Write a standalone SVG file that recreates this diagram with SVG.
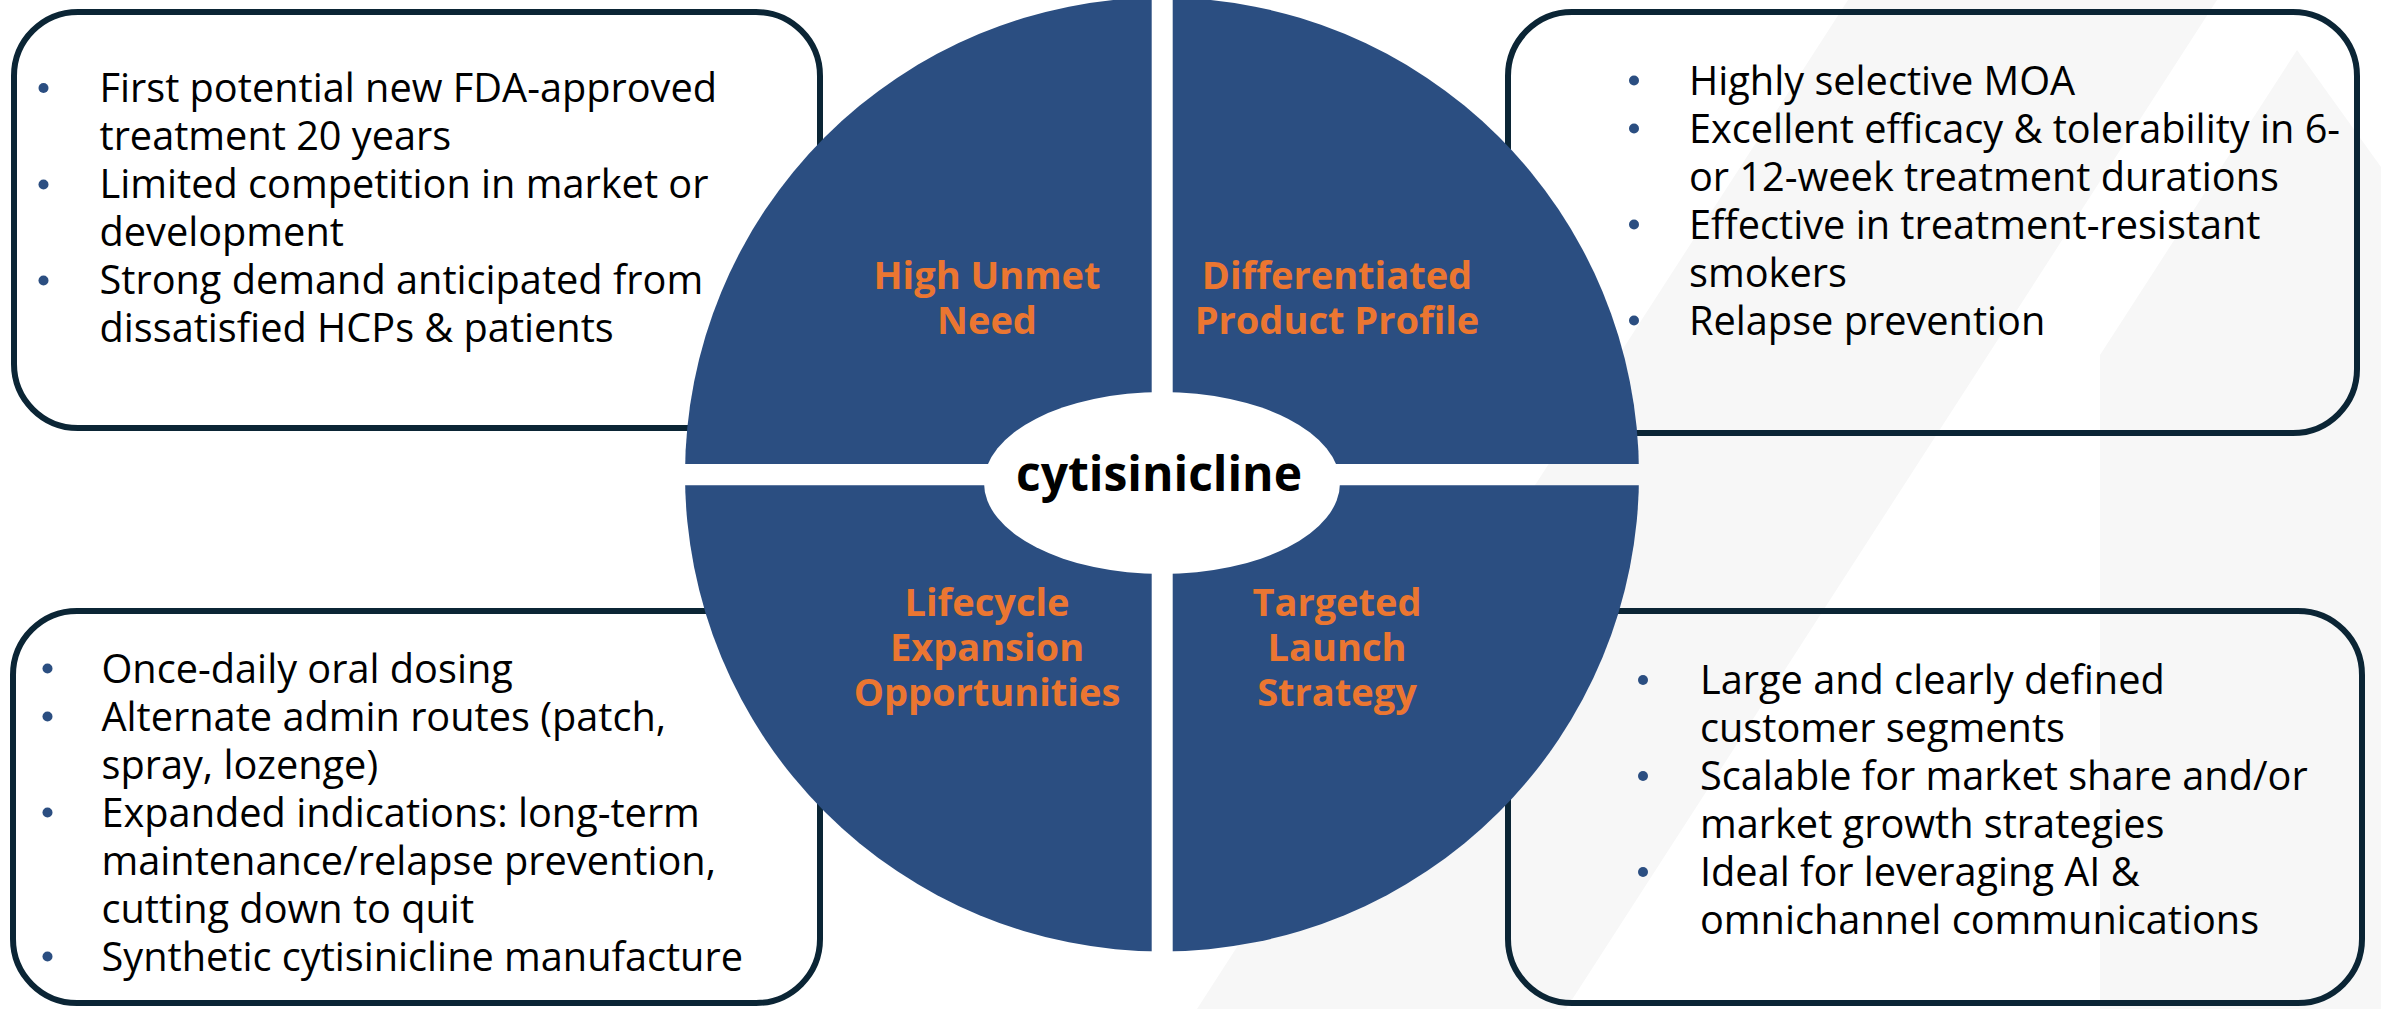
<svg xmlns="http://www.w3.org/2000/svg" width="2381" height="1009" viewBox="0 0 2381 1009">
  <style>
    .box { fill: none; stroke: #0b2535; stroke-width: 6; }
    .body { font-family: "Open Sans", "Liberation Sans", sans-serif; font-size: 39.7px; fill: #000000; }
    .head { font-family: "Open Sans", "Liberation Sans", sans-serif; font-size: 38px; font-weight: bold; fill: #EB7631; text-anchor: middle; }
    .center { font-family: "Open Sans", "Liberation Sans", sans-serif; font-size: 48px; font-weight: bold; fill: #000000; text-anchor: middle; }
    .dot { fill: #2B4E81; }
    .wm { fill: #f7f7f7; }
  </style>
  <defs>
    <clipPath id="quadrants">
      <rect x="0" y="0" width="1151.7" height="464"/>
      <rect x="1172.7" y="0" width="1300" height="464"/>
      <rect x="0" y="485.3" width="1151.7" height="600"/>
      <rect x="1172.7" y="485.3" width="1300" height="600"/>
    </clipPath>
  </defs>

  <rect x="0" y="0" width="2381" height="1009" fill="#ffffff"/>

  <g id="watermark">
    <polygon class="wm" points="1848,0 2217,0 1566,1009 1197,1009"/>
    <polygon class="wm" points="2297,50 2381,167 2381,1009 2100,1009 2100,355"/>
  </g>

  <g id="node-high-unmet-need-box">
    <rect class="box" x="14" y="12" width="806" height="416" rx="64" ry="64"/>
    <circle class="dot" cx="43.5" cy="88" r="5"/>
    <circle class="dot" cx="43.5" cy="184.5" r="5"/>
    <circle class="dot" cx="43.5" cy="280.5" r="5"/>
    <text class="body" x="99.5" y="102">First potential new FDA-approved</text>
    <text class="body" x="99.5" y="150">treatment 20 years</text>
    <text class="body" x="99.5" y="198">Limited competition in market or</text>
    <text class="body" x="99.5" y="246">development</text>
    <text class="body" x="99.5" y="294">Strong demand anticipated from</text>
    <text class="body" x="99.5" y="342">dissatisfied HCPs &amp; patients</text>
  </g>

  <g id="node-differentiated-box">
    <rect class="box" x="1508" y="12" width="849" height="421" rx="64" ry="64"/>
    <circle class="dot" cx="1634" cy="80.5" r="5"/>
    <circle class="dot" cx="1634" cy="128.5" r="5"/>
    <circle class="dot" cx="1634" cy="224.5" r="5"/>
    <circle class="dot" cx="1634" cy="320.5" r="5"/>
    <text class="body" x="1689" y="94.5">Highly selective MOA</text>
    <text class="body" x="1689" y="142.5">Excellent efficacy &amp; tolerability in 6-</text>
    <text class="body" x="1689" y="190.5">or 12-week treatment durations</text>
    <text class="body" x="1689" y="238.5">Effective in treatment-resistant</text>
    <text class="body" x="1689" y="286.5">smokers</text>
    <text class="body" x="1689" y="334.5">Relapse prevention</text>
  </g>

  <g id="node-lifecycle-box">
    <rect class="box" x="13" y="611" width="807" height="392" rx="64" ry="64"/>
    <circle class="dot" cx="47.5" cy="668.5" r="5"/>
    <circle class="dot" cx="47.5" cy="716.5" r="5"/>
    <circle class="dot" cx="47.5" cy="812.5" r="5"/>
    <circle class="dot" cx="47.5" cy="956.5" r="5"/>
    <text class="body" x="101.5" y="682.5">Once-daily oral dosing</text>
    <text class="body" x="101.5" y="730.5">Alternate admin routes (patch,</text>
    <text class="body" x="101.5" y="778.5">spray, lozenge)</text>
    <text class="body" x="101.5" y="826.5">Expanded indications: long-term</text>
    <text class="body" x="101.5" y="874.5">maintenance/relapse prevention,</text>
    <text class="body" x="101.5" y="922.5">cutting down to quit</text>
    <text class="body" x="101.5" y="970.5">Synthetic cytisinicline manufacture</text>
  </g>

  <g id="node-launch-box">
    <rect class="box" x="1508" y="611" width="854" height="392" rx="64" ry="64"/>
    <circle class="dot" cx="1643" cy="680" r="5"/>
    <circle class="dot" cx="1643" cy="776" r="5"/>
    <circle class="dot" cx="1643" cy="872" r="5"/>
    <text class="body" x="1700" y="694">Large and clearly defined</text>
    <text class="body" x="1700" y="742">customer segments</text>
    <text class="body" x="1700" y="790">Scalable for market share and/or</text>
    <text class="body" x="1700" y="838">market growth strategies</text>
    <text class="body" x="1700" y="886">Ideal for leveraging AI &amp;</text>
    <text class="body" x="1700" y="934">omnichannel communications</text>
  </g>

  <g id="node-circle">
    <circle cx="1162" cy="474.5" r="477" fill="#2B4E81" clip-path="url(#quadrants)"/>
  </g>

  <g id="node-high-unmet-need">
    <text class="head" x="987" y="289">High Unmet</text>
    <text class="head" x="987" y="334">Need</text>
  </g>
  <g id="node-differentiated">
    <text class="head" x="1337" y="289">Differentiated</text>
    <text class="head" x="1337" y="334">Product Profile</text>
  </g>
  <g id="node-lifecycle">
    <text class="head" x="987" y="616">Lifecycle</text>
    <text class="head" x="987" y="661">Expansion</text>
    <text class="head" x="987" y="706">Opportunities</text>
  </g>
  <g id="node-launch">
    <text class="head" x="1337" y="616">Targeted</text>
    <text class="head" x="1337" y="661">Launch</text>
    <text class="head" x="1337" y="706">Strategy</text>
  </g>

  <g id="node-cytisinicline">
    <ellipse cx="1162" cy="483" rx="178" ry="91" fill="#ffffff"/>
    <text class="center" x="1159" y="491">cytisinicline</text>
  </g>

  <g id="connectors"/>
</svg>
